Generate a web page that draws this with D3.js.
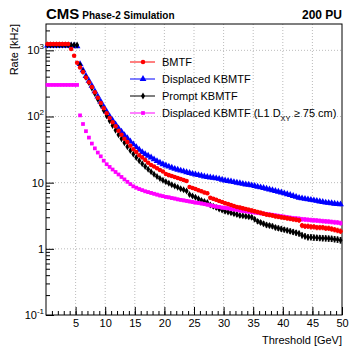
<!DOCTYPE html>
<html><head><meta charset="utf-8">
<script src="https://cdn.jsdelivr.net/npm/d3@7"></script>
<style>
body{margin:0;background:#fff}
text{font-family:"Liberation Sans",Arial,Helvetica,sans-serif}
</style>
</head><body>
<script>
// ---------------- data ----------------
const thresholds = [
 0.25,0.75,1.25,1.75,2.25,2.75,3.25,3.75,4.25,4.75,
 5.25,5.75,6.25,6.75,7.25,7.75,8.25,8.75,9.25,9.75,
 10.25,10.75,11.25,11.75,12.25,12.75,13.25,13.75,14.25,14.75,
 15.25,15.75,16.25,16.75,17.25,17.75,18.25,18.75,19.25,19.75,
 20.25,20.75,21.25,21.75,22.25,22.75,23.25,23.75,24.25,24.75,
 25.25,25.75,26.25,26.75,27.25,27.75,28.25,28.75,29.25,29.75,
 30.25,30.75,31.25,31.75,32.25,32.75,33.25,33.75,34.25,34.75,
 35.25,35.75,36.25,36.75,37.25,37.75,38.25,38.75,39.25,39.75,
 40.25,40.75,41.25,41.75,42.25,42.75,43.25,43.75,44.25,44.75,
 45.25,45.75,46.25,46.75,47.25,47.75,48.25,48.75,49.25,49.75];

const bmtf = [
 1250,1250,1250,1250,1250,1250,1250,1250,1050,830,
 650,550,470,390,330,280,232,192,160,133,
 112,95,82,71,61,53,46,41,36,32,
 29,26,24,22,20,18.5,17.5,16.5,15.5,14.8,
 13.5,13,12.6,12.2,11.8,11.4,11.0,10.6,8.6,8.3,
 8.0,7.7,7.4,7.1,6.9,5.9,5.7,5.5,5.3,5.1,
 4.9,4.75,4.6,4.45,4.3,4.2,4.1,4.0,3.9,3.8,
 3.7,3.6,3.5,3.4,3.3,3.25,3.2,3.1,3.05,3.0,
 2.95,2.9,2.85,2.8,2.75,2.7,2.25,2.2,2.2,2.15,
 2.15,2.1,2.1,2.1,2.05,2.05,2.0,1.95,1.9,1.85];

const displacedKbmtf = [
 1180,1180,1180,1180,1180,1180,1180,1180,1180,1180,
 1150,620,500,410,345,290,240,200,167,140,
 118,100,87,76,66,59,52,47,42,38,
 34.5,31.5,29,27,25.5,24,22.5,21.2,20,19,
 18.2,17.5,16.8,16.2,15.7,15.2,14.8,14.4,14.0,13.6,
 13.3,13.0,12.7,12.4,12.2,12.0,11.8,11.6,11.4,11.1,
 10.8,10.6,10.4,10.2,10.0,9.8,9.6,9.4,9.3,9.1,
 8.9,8.7,8.5,8.3,8.1,7.9,7.7,7.5,7.3,7.1,
 6.9,6.7,6.5,6.3,6.1,5.9,5.8,5.7,5.6,5.5,
 5.4,5.3,5.2,5.1,5.0,4.95,4.9,4.8,4.75,4.7];

const promptKbmtf = [
 1200,1200,1200,1200,1200,1200,1200,1200,1200,1200,
 1200,600,480,390,325,270,222,182,150,124,
 103,86,73,62,53,46,40,35,30.5,27,
 24,21.5,19.3,17.5,16,14.6,13.4,12.4,11.6,10.9,
 10.3,9.8,9.3,8.9,8.5,8.1,7.8,7.5,6.6,6.3,
 6.0,5.7,5.4,5.2,5.0,4.6,4.4,4.2,4.0,3.85,
 3.7,3.6,3.5,3.4,3.3,3.2,3.15,3.1,3.05,3.0,
 2.8,2.6,2.5,2.4,2.3,2.25,2.2,2.1,2.05,2.0,
 1.95,1.9,1.85,1.8,1.75,1.7,1.6,1.55,1.5,1.5,
 1.48,1.47,1.46,1.45,1.44,1.43,1.42,1.4,1.38,1.35];

const displacedL1 = [
 300,300,300,300,300,300,300,300,300,300,
 300,104,77,60,48,39,33,28.5,25,21.5,
 19,17.3,15.8,14.5,13.3,12.2,11.2,10.3,9.5,8.8,
 8.4,8.0,7.7,7.4,7.2,7.0,6.8,6.6,6.4,6.25,
 6.1,6.0,5.85,5.75,5.6,5.5,5.4,5.3,5.2,5.1,
 5.0,4.95,4.85,4.75,4.65,4.55,4.45,4.35,4.3,4.2,
 4.15,4.1,4.0,3.95,3.9,3.8,3.75,3.7,3.65,3.6,
 3.55,3.5,3.45,3.4,3.35,3.3,3.25,3.2,3.15,3.1,
 3.05,3.0,2.95,2.9,2.88,2.85,2.8,2.78,2.75,2.72,
 2.7,2.68,2.65,2.62,2.6,2.58,2.55,2.52,2.5,2.45];

const xTicks = [5,10,15,20,25,30,35,40,45,50];
const yTicks = [0.1,1,10,100,1000];
const yTickLabels = [["10","-1"],["1",""],["10",""],["10","2"],["10","3"]];
const legendLabels = ["BMTF","Displaced KBMTF","Prompt KBMTF","Displaced KBMTF (L1 D"];
// Poisson-like statistical uncertainty scale (kHz per event)
const kHzPerEvent = 0.012;

// ---------------- layout ----------------
const W = 357, H = 353;
const L = 46, R = 342, T = 24, B = 315;

const svg = d3.select("body").append("svg").attr("width", W).attr("height", H);

const x = d3.scaleLinear().domain([0, 50]).range([L, R]);
const y = d3.scaleLog().domain([0.1, 2500]).range([B, T]);

// grid
const grid = svg.append("g").attr("stroke", "#aaa").attr("stroke-width", 0.8).attr("stroke-dasharray", "1,2");
xTicks.filter(d => d < 50).forEach(d => grid.append("line").attr("x1", x(d)).attr("x2", x(d)).attr("y1", T).attr("y2", B));
yTicks.filter(d => d > 0.1).forEach(d => grid.append("line").attr("x1", L).attr("x2", R).attr("y1", y(d)).attr("y2", y(d)));

// axes (ticks pointing inward)
const xMinor = d3.range(1, 50, 1);
const gx = svg.append("g").attr("transform", `translate(0,${B})`)
  .call(d3.axisBottom(x).tickValues(xMinor).tickSize(-4).tickFormat(""));
gx.select(".domain").remove();
gx.selectAll("line").attr("stroke", "#000");
const gx2 = svg.append("g").attr("transform", `translate(0,${B})`)
  .call(d3.axisBottom(x).tickValues(xTicks).tickSize(-8).tickPadding(4).tickFormat(d3.format("d")));
gx2.select(".domain").remove();
gx2.selectAll("line").attr("stroke", "#000");
gx2.selectAll("text").attr("font-size", 11).attr("fill", "#000")
  .attr("font-family", '"Liberation Sans",Arial,sans-serif');

const yMinorVals = [];
[0.1, 1, 10, 100, 1000].forEach(dec => { for (let k = 2; k <= 9; k++) { const v = dec * k; if (v <= 2500) yMinorVals.push(v); } });
const gy = svg.append("g").attr("transform", `translate(${L},0)`)
  .call(d3.axisLeft(y).tickValues(yMinorVals).tickSize(-4).tickFormat(""));
gy.select(".domain").remove();
gy.selectAll("line").attr("stroke", "#000");
const gy2 = svg.append("g").attr("transform", `translate(${L},0)`)
  .call(d3.axisLeft(y).tickValues(yTicks).tickSize(-8).tickFormat(""));
gy2.select(".domain").remove();
gy2.selectAll("line").attr("stroke", "#000");

yTicks.forEach((d, i) => {
  const t = svg.append("text").attr("x", 44).attr("y", y(d) + 4)
    .attr("text-anchor", "end").attr("font-size", 11).attr("fill", "#000");
  t.append("tspan").text(yTickLabels[i][0]);
  if (yTickLabels[i][1]) t.append("tspan").attr("dy", -5).attr("font-size", 8).text(yTickLabels[i][1]);
});

// frame
svg.append("rect").attr("x", L).attr("y", T).attr("width", R - L).attr("height", B - T)
  .attr("fill", "none").attr("stroke", "#000").attr("stroke-width", 1);

// axis titles
svg.append("text").attr("x", R).attr("y", 344).attr("text-anchor", "end")
  .attr("font-size", 11).text("Threshold [GeV]");
svg.append("text").attr("transform", `translate(18,${T}) rotate(-90)`).attr("text-anchor", "end")
  .attr("font-size", 11).text("Rate [kHz]");

// header
const hdr = svg.append("text").attr("x", L).attr("y", 19).attr("font-weight", "bold");
hdr.append("tspan").attr("font-size", 15).text("CMS");
hdr.append("tspan").attr("font-size", 10).attr("dx", 3).text("Phase-2 Simulation");
svg.append("text").attr("x", R).attr("y", 19).attr("text-anchor", "end")
  .attr("font-weight", "bold").attr("font-size", 12).text("200 PU");

// ---------------- series ----------------
const series = [
  {vals: displacedKbmtf, color: "#0000ff", shape: d3.symbolTriangle, size: 20},
  {vals: promptKbmtf, color: "#000000", shape: d3.symbolDiamond, size: 14},
  {vals: displacedL1, color: "#ff00ff", shape: d3.symbolSquare, size: 14},
  {vals: bmtf, color: "#ff0000", shape: d3.symbolCircle, size: 16}
];

const plot = svg.append("g");
series.forEach(s => {
  const g = plot.append("g");
  const pts = thresholds.map((t, i) => ({t, v: s.vals[i], e: Math.sqrt(s.vals[i] * kHzPerEvent)}));
  g.selectAll(".eb").data(pts).join("path")
    .attr("d", p => {
      const cx = x(p.t), y1 = y(p.v + p.e), y2 = y(Math.max(p.v - p.e, 0.1));
      return `M${cx},${y1}V${y2}M${cx-1},${y1}H${cx+1}M${cx-1},${y2}H${cx+1}`;
    })
    .attr("stroke", s.color).attr("stroke-width", 0.8).attr("fill", "none");
  g.selectAll(".m").data(pts).join("path")
    .attr("transform", p => `translate(${x(p.t)},${y(p.v)})`)
    .attr("d", d3.symbol().type(s.shape).size(s.size))
    .attr("fill", s.color);
});

// ---------------- legend ----------------
const legSeries = [
  {label: legendLabels[0], color: "#ff0000", shape: d3.symbolCircle, size: 16},
  {label: legendLabels[1], color: "#0000ff", shape: d3.symbolTriangle, size: 20},
  {label: legendLabels[2], color: "#000000", shape: d3.symbolDiamond, size: 14},
  {label: legendLabels[3], color: "#ff00ff", shape: d3.symbolSquare, size: 14}
];
const legY = d3.scalePoint().domain(d3.range(4)).range([62, 113]);
legSeries.forEach((s, i) => {
  const cy = legY(i);
  svg.append("line").attr("x1", 130).attr("x2", 155).attr("y1", cy).attr("y2", cy)
    .attr("stroke", s.color).attr("stroke-width", 1);
  svg.append("path").attr("transform", `translate(143,${cy})`)
    .attr("d", d3.symbol().type(s.shape).size(s.size)).attr("fill", s.color);
  const t = svg.append("text").attr("x", 162).attr("y", cy + 4).attr("font-size", 11).text(s.label);
  if (i === 3) {
    t.append("tspan").attr("dy", 4).attr("font-size", 7.5).text("XY");
    t.append("tspan").attr("dy", -4).attr("font-size", 11).text(" \u2265 75 cm)");
  }
});
</script>
</body></html>
